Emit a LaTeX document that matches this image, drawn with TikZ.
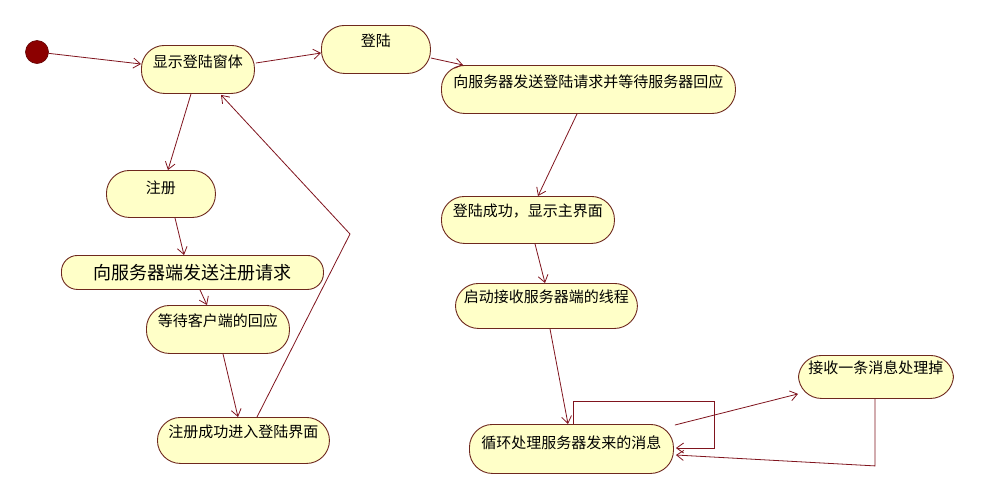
\documentclass[tikz,border=0pt]{standalone}
\usepackage{fontspec}
\setmainfont{Noto Sans CJK SC}
\usetikzlibrary{arrows.meta,calc}
\definecolor{stfill}{RGB}{255,255,200}
\definecolor{stdraw}{RGB}{110,40,30}
\definecolor{edge}{RGB}{128,20,30}
\definecolor{dot}{RGB}{140,0,0}
\tikzset{
  st/.style={draw=stdraw, fill=stfill, line width=0.9pt, rounded corners=23pt,
    inner sep=0pt, anchor=north west, font=\fontsize{15}{15}\selectfont, align=center},
  tr/.style={draw=edge, line width=0.8pt, -{Straight Barb[length=7pt,width=10pt]}},
}
\begin{document}
\begin{tikzpicture}[x=1pt,y=-1pt]
\useasboundingbox (0,0) rectangle (995,499);
\fill[white] (0,0) rectangle (995,499);

\node[circle, fill=dot, draw=dot!70!black, line width=0.6pt, minimum size=23pt, inner sep=0pt] (start) at (37,52) {};

\node[st, minimum width=113pt, text height=22pt, text depth=26pt] (A) at (141,45) {显示登陆窗体};
\node[st, minimum width=109pt, text height=21pt, text depth=27pt] (B) at (321,25) {登陆};
\node[st, minimum width=294pt, text height=22pt, text depth=26pt] (C) at (441,65) {向服务器发送登陆请求并等待服务器回应};
\node[st, minimum width=173pt, text height=20pt, text depth=27pt] (D) at (441,196) {登陆成功，显示主界面};
\node[st, minimum width=182pt, text height=19pt, text depth=26pt] (E) at (455,283) {启动接收服务器端的线程};
\node[st, minimum width=204pt, text height=24pt, text depth=25pt] (F) at (469,424) {循环处理服务器发来的消息};
\node[st, minimum width=155pt, text height=18pt, text depth=25pt] (G) at (798,355) {接收一条消息处理掉};
\node[st, minimum width=109pt, text height=23pt, text depth=24pt] (H) at (106,170) {注册};
\node[st, minimum width=262pt, text height=24pt, text depth=10pt, rounded corners=16pt, font=\fontsize{18}{18}\selectfont] (I) at (61,255) {向服务器端发送注册请求};
\node[st, minimum width=143pt, text height=21pt, text depth=27pt] (J) at (146,305) {等待客户端的回应};
\node[st, minimum width=172pt, text height=20pt, text depth=26pt] (K) at (157,417) {注册成功进入登陆界面};

\coordinate (bend) at (350,234);

\draw[tr] (start) -- ($(A.north west)+(0,19)$);
\draw[tr] ($(A.north east)+(1,18)$) -- ($(B.north west)+(0,28)$);
\draw[tr] ($(B.north east)+(0,33)$) -- ($(C.north west)+(22,0)$);
\draw[tr] ($(C.south west)+(136,0)$) -- ($(D.north west)+(97,0)$);
\draw[tr] ($(D.south west)+(94,0)$) -- ($(E.north west)+(90,0)$);
\draw[tr] ($(E.south west)+(95,0)$) -- ($(F.north west)+(99,0)$);
\draw[tr] ($(F.north west)+(104,0)$) -- ($(F.north west)+(104,-23)$)
  -- ($(F.north east)+(40,-23)$) -- ($(F.north east)+(40,24)$) -- ($(F.north east)+(2,24)$);
\draw[tr] ($(F.north east)+(1,1)$) -- ($(G.south west)+(0,-5)$);
\draw[tr] ($(G.south west)+(77,0)$) -- ($(G.south west)+(77,67)$) -- ($(F.north east)+(2,31)$);
\draw[tr] ($(A.south west)+(50,0)$) -- ($(H.north west)+(62,0)$);
\draw[tr] ($(H.south west)+(69,0)$) -- ($(I.north west)+(123,0)$);
\draw[tr] ($(I.south west)+(139,0)$) -- ($(J.north west)+(61,0)$);
\draw[tr] ($(J.south west)+(77,0)$) -- ($(K.north west)+(81,0)$);
\draw[tr] ($(K.north west)+(100,0)$) -- (bend) -- ($(A.south west)+(80,1)$);
\end{tikzpicture}
\end{document}
